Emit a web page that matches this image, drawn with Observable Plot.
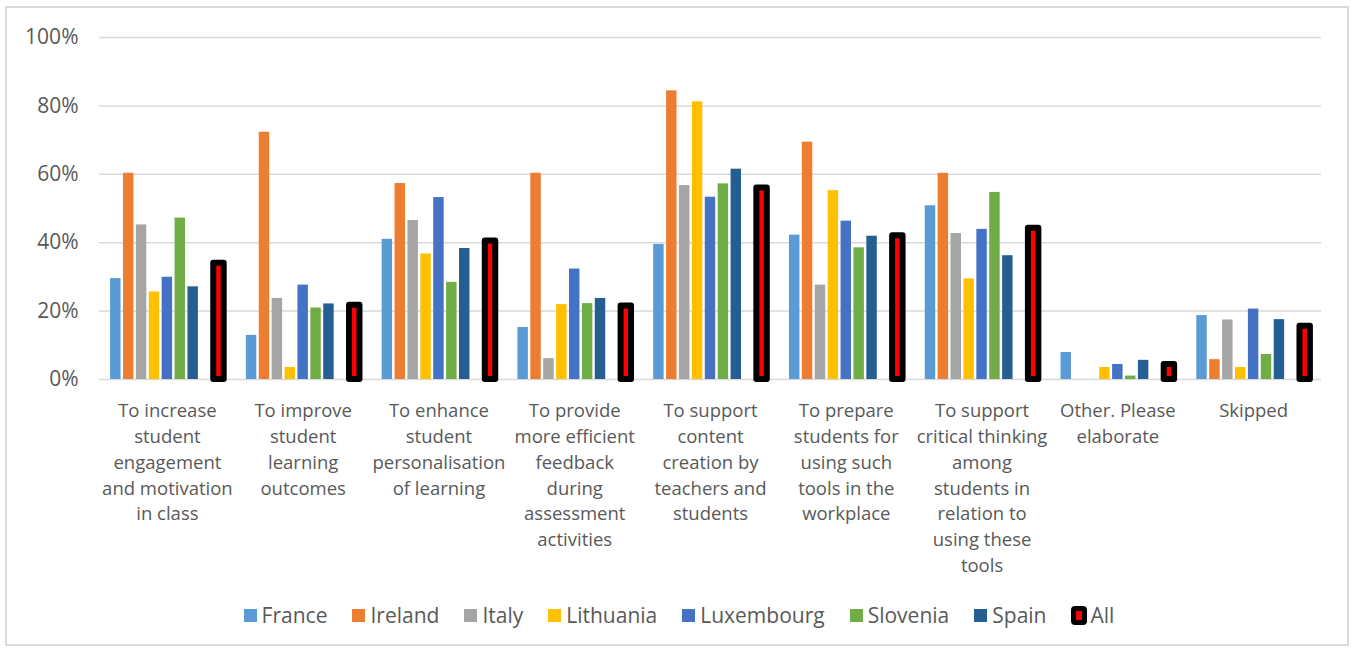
<!DOCTYPE html>
<html>
<head>
<meta charset="utf-8">
<script src="https://cdn.jsdelivr.net/npm/d3@7"></script>
<script src="https://cdn.jsdelivr.net/npm/@observablehq/plot@0.6"></script>
<style>
  html, body { margin: 0; padding: 0; background: #fff; }
  body { width: 1351px; height: 648px; position: relative; overflow: hidden; font-family: "Open Sans", sans-serif; }
  #frame { position: absolute; left: 5px; top: 6px; width: 1344px; height: 640px; box-sizing: border-box; border: 2px solid #d9d9d9; }
  #chart { position: absolute; left: 0; top: 0; }
  #legend { position: absolute; left: 0; top: 601px; width: 1358px; display: flex; justify-content: center; align-items: center; gap: 25px; font-size: 21px; color: #595959; }
  .item { display: flex; align-items: center; }
  .sw { width: 13px; height: 13px; margin-right: 5px; }
  .sw-all { width: 6px; height: 9px; background: #ff0000; border: 5px solid #000; border-radius: 4px; margin-right: 3px; }
</style>
</head>
<body>
<div id="frame"></div>
<div id="chart"></div>
<div id="legend"></div>
<script>
const categories = [
  "To increase student engagement and motivation in class",
  "To improve student learning outcomes",
  "To enhance student personalisation of learning",
  "To provide more efficient feedback during assessment activities",
  "To support content creation by teachers and students",
  "To prepare students for using such tools in the workplace",
  "To support critical thinking among students in relation to using these tools",
  "Other. Please elaborate",
  "Skipped"
];
const tickLabels = [
  ["To increase", "student", "engagement", "and motivation", "in class"],
  ["To improve", "student", "learning", "outcomes"],
  ["To enhance", "student", "personalisation", "of learning"],
  ["To provide", "more efficient", "feedback", "during", "assessment", "activities"],
  ["To support", "content", "creation by", "teachers and", "students"],
  ["To prepare", "students for", "using such", "tools in the", "workplace"],
  ["To support", "critical thinking", "among", "students in", "relation to", "using these", "tools"],
  ["Other. Please", "elaborate"],
  ["Skipped"]
];
const series = ["France", "Ireland", "Italy", "Lithuania", "Luxembourg", "Slovenia", "Spain", "All"];
const colors = ["#5b9bd5", "#ed7d31", "#a5a5a5", "#ffc000", "#4472c4", "#70ad47", "#255e91", "#ff0000"];

const france     = [29.5, 12.9, 41.0, 15.2, 39.5, 42.2, 50.8, 7.9, 18.7];
const ireland    = [60.3, 72.3, 57.3, 60.3, 84.4, 69.4, 60.3, 0, 5.8];
const italy      = [45.2, 23.7, 46.5, 6.1, 56.7, 27.6, 42.7, 0, 17.4];
const lithuania  = [25.6, 3.5, 36.7, 21.9, 81.2, 55.2, 29.4, 3.5, 3.5];
const luxembourg = [29.9, 27.6, 53.2, 32.3, 53.3, 46.3, 43.9, 4.4, 20.6];
const slovenia   = [47.2, 20.9, 28.4, 22.2, 57.2, 38.5, 54.7, 1.0, 7.3];
const spain      = [27.1, 22.1, 38.3, 23.7, 61.5, 41.9, 36.2, 5.6, 17.5];
const all        = [34.0, 21.7, 40.5, 21.5, 56.0, 42.0, 44.2, 4.4, 15.6];

const yTicks = [0, 20, 40, 60, 80, 100];

const valueLists = [france, ireland, italy, lithuania, luxembourg, slovenia, spain, all];
const rows = [];
series.forEach((s, i) => {
  categories.forEach((c, j) => rows.push({category: c, series: s, value: valueLists[i][j]}));
});
const countryRows = rows.filter(d => d.series !== "All");
const allRows = rows.filter(d => d.series === "All");

// slot domain: the seven countries, an empty slot, then All
const slots = [...series.slice(0, 7), "\u2009", "All"];

const chart = Plot.plot({
  width: 1351,
  height: 600,
  marginLeft: 99,
  marginRight: 30,
  marginTop: 37,
  marginBottom: 221,
  style: {fontFamily: "Open Sans, sans-serif", color: "#595959", background: "transparent"},
  fx: {domain: categories, padding: 0, round: false, label: null},
  x: {domain: slots, paddingInner: 0.19, paddingOuter: 0.86, round: false, axis: null},
  y: {domain: [0, 100], label: null},
  color: {domain: series, range: colors},
  marks: [
    Plot.gridY(yTicks.slice(1), {stroke: "#d9d9d9", strokeOpacity: 1, strokeWidth: 1.5}),
    Plot.ruleY([0], {stroke: "#d9d9d9", strokeWidth: 1.5}),
    Plot.barY(countryRows, {fx: "category", x: "series", y: "value", fill: "series"}),
    Plot.barY(allRows, {fx: "category", x: "series", y: "value", fill: "#ff0000", stroke: "#000", strokeWidth: 6, strokeLinejoin: "round"}),
    Plot.axisY({ticks: yTicks, tickFormat: d => d + "%", tickSize: 0, tickPadding: 21, fontSize: 21, fill: "#595959", label: null}),
    Plot.axisFx({anchor: "bottom", tickSize: 0, tickPadding: 19, fontSize: 18.5, lineHeight: 1.4, fill: "#595959", label: null,
      tickFormat: d => tickLabels[categories.indexOf(d)].join("\n")})
  ]
});
document.getElementById("chart").appendChild(chart);

const legend = document.getElementById("legend");
series.forEach((s, i) => {
  const item = document.createElement("div");
  item.className = "item";
  const sw = document.createElement("div");
  if (s === "All") {
    sw.className = "sw-all";
  } else {
    sw.className = "sw";
    sw.style.background = colors[i];
  }
  const label = document.createElement("span");
  label.textContent = s;
  item.appendChild(sw);
  item.appendChild(label);
  legend.appendChild(item);
});
</script>
</body>
</html>
